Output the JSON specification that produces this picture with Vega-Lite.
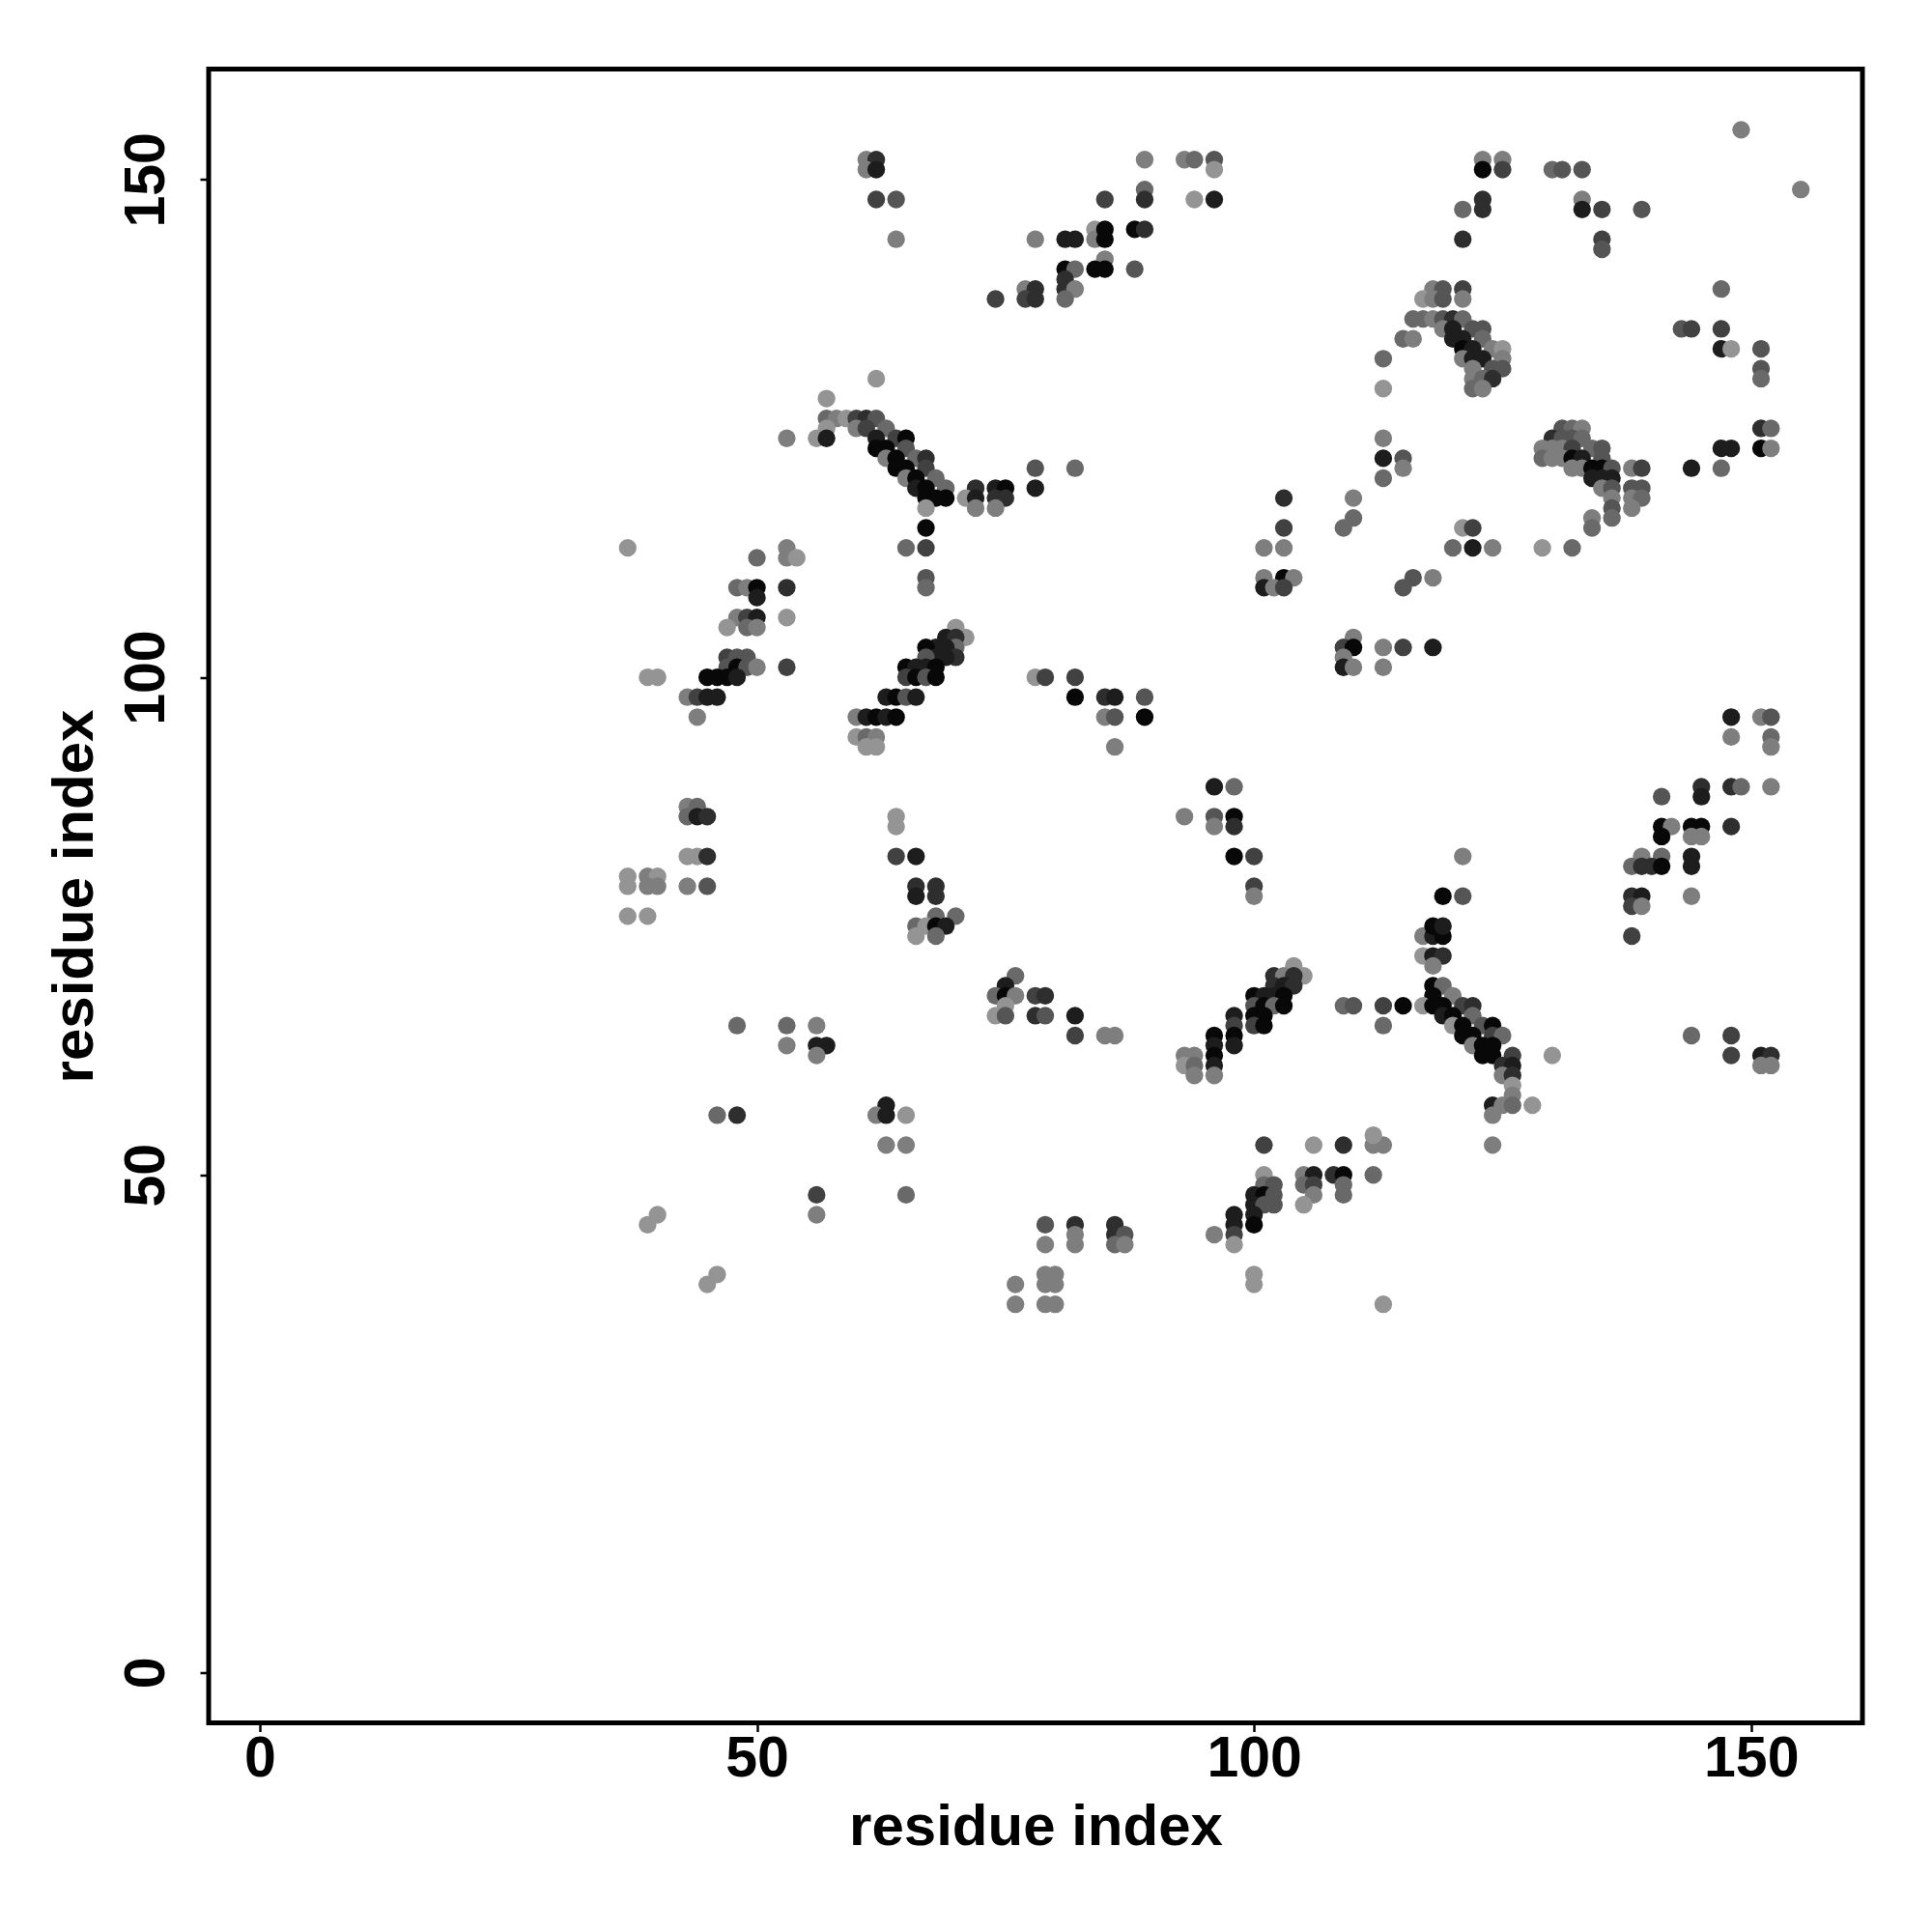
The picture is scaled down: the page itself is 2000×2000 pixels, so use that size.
{"$schema":"https://vega.github.io/schema/vega-lite/v6.json","width":1712,"height":1712,"autosize":{"type":"none"},"padding":{"left":216,"top":71.5,"right":72,"bottom":216},"background":"white","view":{"stroke":"#000","strokeWidth":5},
"data":{"values":[
{"x":62,"y":130,"s":2},{"x":57,"y":128,"s":2},{"x":57,"y":126,"s":4},{"x":58,"y":126,"s":3},{"x":59,"y":126,"s":2},{"x":60,"y":126,"s":6},{"x":61,"y":126,"s":7},{"x":62,"y":126,"s":5},{"x":57,"y":125,"s":2},{"x":60,"y":125,"s":3},{"x":61,"y":125,"s":6},{"x":63,"y":125,"s":4},{"x":53,"y":124,"s":3},{"x":56,"y":124,"s":2},{"x":57,"y":124,"s":8},{"x":62,"y":124,"s":8},{"x":64,"y":124,"s":6},{"x":65,"y":124,"s":9},{"x":62,"y":123,"s":9},{"x":63,"y":123,"s":9},{"x":65,"y":123,"s":5},{"x":63,"y":122,"s":3},{"x":64,"y":122,"s":9},{"x":66,"y":122,"s":4},{"x":67,"y":122,"s":7},{"x":64,"y":121,"s":9},{"x":65,"y":121,"s":9},{"x":67,"y":121,"s":6},{"x":65,"y":120,"s":3},{"x":66,"y":120,"s":9},{"x":68,"y":120,"s":4},{"x":66,"y":119,"s":8},{"x":67,"y":119,"s":9},{"x":69,"y":119,"s":4},{"x":72,"y":119,"s":7},{"x":74,"y":119,"s":8},{"x":75,"y":119,"s":9},{"x":78,"y":119,"s":8},{"x":78,"y":121,"s":5},{"x":82,"y":121,"s":4},{"x":67,"y":118,"s":9},{"x":68,"y":118,"s":9},{"x":69,"y":118,"s":9},{"x":71,"y":118,"s":2},{"x":72,"y":118,"s":8},{"x":74,"y":118,"s":7},{"x":75,"y":118,"s":7},{"x":67,"y":117,"s":2},{"x":72,"y":117,"s":3},{"x":74,"y":117,"s":3},{"x":67,"y":115,"s":9},{"x":37,"y":113,"s":2},{"x":53,"y":113,"s":3},{"x":65,"y":113,"s":4},{"x":67,"y":113,"s":6},{"x":50,"y":112,"s":4},{"x":53,"y":112,"s":3},{"x":54,"y":112,"s":2},{"x":67,"y":110,"s":5},{"x":48,"y":109,"s":4},{"x":49,"y":109,"s":3},{"x":50,"y":109,"s":9},{"x":53,"y":109,"s":7},{"x":67,"y":109,"s":4},{"x":50,"y":108,"s":8},{"x":48,"y":106,"s":3},{"x":49,"y":106,"s":6},{"x":50,"y":106,"s":8},{"x":53,"y":106,"s":2},{"x":47,"y":105,"s":2},{"x":49,"y":105,"s":4},{"x":50,"y":105,"s":3},{"x":47,"y":102,"s":6},{"x":48,"y":102,"s":5},{"x":49,"y":102,"s":5},{"x":70,"y":105,"s":2},{"x":71,"y":104,"s":2},{"x":69,"y":104,"s":8},{"x":70,"y":104,"s":7},{"x":70,"y":103,"s":4},{"x":68,"y":103,"s":8},{"x":67,"y":103,"s":9},{"x":69,"y":103,"s":8},{"x":70,"y":102,"s":7},{"x":69,"y":102,"s":8},{"x":68,"y":102,"s":8},{"x":67,"y":102,"s":5},{"x":65,"y":101,"s":9},{"x":66,"y":101,"s":8},{"x":67,"y":101,"s":8},{"x":68,"y":101,"s":9},{"x":47,"y":101,"s":5},{"x":48,"y":101,"s":9},{"x":49,"y":101,"s":5},{"x":50,"y":101,"s":3},{"x":53,"y":101,"s":6},{"x":39,"y":100,"s":2},{"x":40,"y":100,"s":2},{"x":45,"y":100,"s":9},{"x":46,"y":100,"s":9},{"x":47,"y":100,"s":9},{"x":48,"y":100,"s":8},{"x":65,"y":100,"s":6},{"x":66,"y":100,"s":9},{"x":67,"y":100,"s":5},{"x":68,"y":100,"s":9},{"x":78,"y":100,"s":2},{"x":79,"y":100,"s":6},{"x":82,"y":100,"s":6},{"x":43,"y":98,"s":3},{"x":44,"y":98,"s":6},{"x":45,"y":98,"s":8},{"x":46,"y":98,"s":8},{"x":63,"y":98,"s":8},{"x":64,"y":98,"s":9},{"x":65,"y":98,"s":5},{"x":66,"y":98,"s":8},{"x":82,"y":98,"s":9},{"x":85,"y":98,"s":7},{"x":86,"y":98,"s":8},{"x":89,"y":98,"s":5},{"x":44,"y":96,"s":3},{"x":60,"y":96,"s":3},{"x":61,"y":96,"s":8},{"x":62,"y":96,"s":9},{"x":63,"y":96,"s":8},{"x":64,"y":96,"s":9},{"x":85,"y":96,"s":3},{"x":86,"y":96,"s":5},{"x":89,"y":96,"s":9},{"x":60,"y":94,"s":2},{"x":61,"y":94,"s":4},{"x":62,"y":94,"s":3},{"x":61,"y":93,"s":2},{"x":62,"y":93,"s":2},{"x":86,"y":93,"s":3},
{"x":43,"y":87,"s":3},{"x":44,"y":87,"s":4},{"x":43,"y":86,"s":4},{"x":44,"y":86,"s":8},{"x":45,"y":86,"s":7},{"x":64,"y":86,"s":2},{"x":64,"y":85,"s":2},{"x":43,"y":82,"s":2},{"x":44,"y":82,"s":2},{"x":45,"y":82,"s":7},{"x":64,"y":82,"s":6},{"x":66,"y":82,"s":8},{"x":37,"y":80,"s":2},{"x":39,"y":80,"s":3},{"x":40,"y":80,"s":2},{"x":37,"y":79,"s":2},{"x":39,"y":79,"s":3},{"x":40,"y":79,"s":3},{"x":43,"y":79,"s":3},{"x":45,"y":79,"s":5},{"x":66,"y":79,"s":7},{"x":68,"y":79,"s":7},{"x":66,"y":78,"s":8},{"x":68,"y":78,"s":7},{"x":37,"y":76,"s":2},{"x":39,"y":76,"s":2},{"x":68,"y":76,"s":4},{"x":70,"y":76,"s":4},{"x":66,"y":75,"s":4},{"x":67,"y":75,"s":2},{"x":68,"y":75,"s":9},{"x":69,"y":75,"s":8},{"x":66,"y":74,"s":2},{"x":68,"y":74,"s":4},
{"x":76,"y":70,"s":4},{"x":75,"y":69,"s":8},{"x":74,"y":68,"s":4},{"x":75,"y":68,"s":9},{"x":76,"y":68,"s":3},{"x":78,"y":68,"s":6},{"x":79,"y":68,"s":7},{"x":75,"y":67,"s":2},{"x":74,"y":66,"s":2},{"x":75,"y":66,"s":5},{"x":78,"y":66,"s":7},{"x":79,"y":66,"s":5},{"x":82,"y":66,"s":8},{"x":82,"y":64,"s":6},{"x":85,"y":64,"s":3},{"x":86,"y":64,"s":3},
{"x":48,"y":65,"s":4},{"x":53,"y":65,"s":4},{"x":56,"y":65,"s":3},{"x":53,"y":63,"s":3},{"x":56,"y":63,"s":8},{"x":57,"y":63,"s":8},{"x":56,"y":62,"s":3},{"x":63,"y":57,"s":8},{"x":46,"y":56,"s":4},{"x":48,"y":56,"s":7},{"x":62,"y":56,"s":3},{"x":63,"y":56,"s":8},{"x":65,"y":56,"s":2},{"x":63,"y":53,"s":3},{"x":65,"y":53,"s":3},{"x":56,"y":48,"s":6},{"x":65,"y":48,"s":4},{"x":56,"y":46,"s":3},{"x":39,"y":45,"s":2},{"x":40,"y":46,"s":2},{"x":45,"y":39,"s":2},{"x":46,"y":40,"s":2},
{"x":79,"y":45,"s":5},{"x":82,"y":45,"s":7},{"x":86,"y":45,"s":7},{"x":79,"y":43,"s":3},{"x":82,"y":44,"s":3},{"x":82,"y":43,"s":3},{"x":86,"y":44,"s":7},{"x":87,"y":44,"s":5},{"x":86,"y":43,"s":4},{"x":87,"y":43,"s":3},{"x":76,"y":39,"s":3},{"x":76,"y":37,"s":3},{"x":79,"y":40,"s":3},{"x":80,"y":40,"s":3},{"x":79,"y":39,"s":3},{"x":80,"y":39,"s":3},{"x":79,"y":37,"s":3},{"x":80,"y":37,"s":3},{"x":113,"y":37,"s":2},
{"x":117,"y":74,"s":3},{"x":118,"y":74,"s":8},{"x":119,"y":74,"s":9},{"x":118,"y":75,"s":9},{"x":119,"y":75,"s":8},{"x":117,"y":72,"s":2},{"x":118,"y":72,"s":8},{"x":119,"y":72,"s":7},{"x":118,"y":71,"s":3},{"x":119,"y":78,"s":9},{"x":121,"y":78,"s":5},{"x":121,"y":82,"s":3},{"x":118,"y":69,"s":9},{"x":119,"y":69,"s":4},{"x":118,"y":68,"s":9},{"x":120,"y":68,"s":3},{"x":109,"y":67,"s":4},{"x":110,"y":67,"s":5},{"x":113,"y":67,"s":6},{"x":115,"y":67,"s":9},{"x":117,"y":67,"s":2},{"x":118,"y":67,"s":9},{"x":119,"y":67,"s":9},{"x":121,"y":67,"s":6},{"x":122,"y":67,"s":7},{"x":119,"y":66,"s":8},{"x":120,"y":66,"s":9},{"x":122,"y":66,"s":4},{"x":113,"y":65,"s":4},{"x":120,"y":65,"s":2},{"x":121,"y":65,"s":9},{"x":123,"y":65,"s":5},{"x":124,"y":65,"s":9},{"x":121,"y":64,"s":9},{"x":122,"y":64,"s":9},{"x":124,"y":64,"s":6},{"x":125,"y":64,"s":4},{"x":122,"y":63,"s":3},{"x":123,"y":63,"s":9},{"x":124,"y":63,"s":9},{"x":123,"y":62,"s":9},{"x":124,"y":62,"s":9},{"x":126,"y":62,"s":6},{"x":130,"y":62,"s":2},{"x":125,"y":61,"s":7},{"x":126,"y":61,"s":8},{"x":125,"y":60,"s":3},{"x":126,"y":60,"s":7},{"x":126,"y":59,"s":2},{"x":126,"y":58,"s":3},{"x":124,"y":57,"s":8},{"x":125,"y":57,"s":3},{"x":126,"y":57,"s":4},{"x":128,"y":57,"s":2},{"x":124,"y":56,"s":3},{"x":124,"y":53,"s":3},
{"x":104,"y":71,"s":2},{"x":105,"y":70,"s":2},{"x":102,"y":70,"s":7},{"x":103,"y":70,"s":3},{"x":104,"y":70,"s":7},{"x":102,"y":69,"s":7},{"x":103,"y":69,"s":8},{"x":104,"y":69,"s":7},{"x":100,"y":68,"s":9},{"x":101,"y":68,"s":8},{"x":102,"y":68,"s":8},{"x":103,"y":68,"s":9},{"x":100,"y":67,"s":5},{"x":101,"y":67,"s":9},{"x":102,"y":67,"s":4},{"x":103,"y":67,"s":9},{"x":98,"y":66,"s":8},{"x":100,"y":66,"s":9},{"x":101,"y":66,"s":9},{"x":98,"y":65,"s":6},{"x":100,"y":65,"s":6},{"x":101,"y":65,"s":9},{"x":96,"y":64,"s":9},{"x":98,"y":64,"s":9},{"x":96,"y":63,"s":8},{"x":98,"y":63,"s":8},{"x":93,"y":62,"s":3},{"x":94,"y":62,"s":3},{"x":96,"y":62,"s":9},{"x":93,"y":61,"s":2},{"x":94,"y":61,"s":4},{"x":96,"y":61,"s":8},{"x":94,"y":60,"s":3},{"x":96,"y":60,"s":3},
{"x":101,"y":53,"s":6},{"x":106,"y":53,"s":2},{"x":109,"y":53,"s":7},{"x":112,"y":53,"s":3},{"x":113,"y":53,"s":3},{"x":112,"y":54,"s":2},{"x":101,"y":50,"s":2},{"x":105,"y":50,"s":3},{"x":106,"y":50,"s":8},{"x":108,"y":50,"s":7},{"x":109,"y":50,"s":9},{"x":112,"y":50,"s":4},{"x":101,"y":49,"s":4},{"x":102,"y":49,"s":5},{"x":105,"y":49,"s":4},{"x":106,"y":49,"s":6},{"x":109,"y":49,"s":4},{"x":100,"y":48,"s":8},{"x":101,"y":48,"s":9},{"x":102,"y":48,"s":5},{"x":106,"y":48,"s":3},{"x":109,"y":48,"s":4},{"x":100,"y":47,"s":8},{"x":101,"y":47,"s":5},{"x":102,"y":47,"s":5},{"x":105,"y":47,"s":2},{"x":98,"y":46,"s":8},{"x":100,"y":46,"s":8},{"x":98,"y":45,"s":8},{"x":100,"y":45,"s":9},{"x":96,"y":44,"s":3},{"x":98,"y":44,"s":6},{"x":98,"y":43,"s":2},{"x":100,"y":40,"s":2},{"x":100,"y":39,"s":2},
{"x":118,"y":139,"s":3},{"x":119,"y":139,"s":5},{"x":121,"y":139,"s":6},{"x":147,"y":139,"s":4},{"x":117,"y":138,"s":2},{"x":118,"y":138,"s":3},{"x":119,"y":138,"s":5},{"x":121,"y":138,"s":3},{"x":116,"y":136,"s":4},{"x":117,"y":136,"s":4},{"x":118,"y":136,"s":3},{"x":119,"y":136,"s":5},{"x":120,"y":136,"s":7},{"x":121,"y":136,"s":4},{"x":119,"y":135,"s":3},{"x":120,"y":135,"s":8},{"x":122,"y":135,"s":5},{"x":123,"y":135,"s":5},{"x":143,"y":135,"s":5},{"x":144,"y":135,"s":6},{"x":147,"y":135,"s":6},{"x":115,"y":134,"s":4},{"x":116,"y":134,"s":3},{"x":120,"y":134,"s":8},{"x":121,"y":134,"s":8},{"x":123,"y":134,"s":4},{"x":121,"y":133,"s":9},{"x":122,"y":133,"s":8},{"x":124,"y":133,"s":3},{"x":125,"y":133,"s":2},{"x":147,"y":133,"s":8},{"x":148,"y":133,"s":2},{"x":151,"y":133,"s":5},{"x":113,"y":132,"s":4},{"x":121,"y":132,"s":3},{"x":122,"y":132,"s":8},{"x":123,"y":132,"s":8},{"x":125,"y":132,"s":3},{"x":122,"y":131,"s":3},{"x":124,"y":131,"s":5},{"x":125,"y":131,"s":5},{"x":151,"y":131,"s":5},{"x":122,"y":130,"s":3},{"x":123,"y":130,"s":4},{"x":124,"y":130,"s":7},{"x":151,"y":130,"s":4},{"x":122,"y":129,"s":4},{"x":123,"y":129,"s":3},{"x":113,"y":129,"s":2},
{"x":131,"y":125,"s":5},{"x":132,"y":125,"s":4},{"x":133,"y":125,"s":3},{"x":151,"y":125,"s":7},{"x":152,"y":125,"s":4},{"x":113,"y":124,"s":3},{"x":130,"y":124,"s":7},{"x":131,"y":124,"s":5},{"x":132,"y":124,"s":5},{"x":133,"y":124,"s":4},{"x":129,"y":123,"s":3},{"x":130,"y":123,"s":3},{"x":131,"y":123,"s":3},{"x":132,"y":123,"s":6},{"x":134,"y":123,"s":4},{"x":135,"y":123,"s":5},{"x":147,"y":123,"s":8},{"x":148,"y":123,"s":8},{"x":151,"y":123,"s":9},{"x":152,"y":123,"s":3},{"x":113,"y":122,"s":8},{"x":115,"y":122,"s":5},{"x":129,"y":122,"s":4},{"x":130,"y":122,"s":3},{"x":131,"y":122,"s":3},{"x":132,"y":122,"s":9},{"x":133,"y":122,"s":8},{"x":135,"y":122,"s":5},{"x":115,"y":121,"s":3},{"x":132,"y":121,"s":3},{"x":133,"y":121,"s":3},{"x":134,"y":121,"s":9},{"x":135,"y":121,"s":9},{"x":136,"y":121,"s":5},{"x":138,"y":121,"s":3},{"x":139,"y":121,"s":6},{"x":144,"y":121,"s":8},{"x":147,"y":121,"s":4},{"x":113,"y":120,"s":4},{"x":134,"y":120,"s":8},{"x":135,"y":120,"s":8},{"x":136,"y":120,"s":8},{"x":135,"y":119,"s":3},{"x":136,"y":119,"s":5},{"x":138,"y":119,"s":5},{"x":139,"y":119,"s":5},{"x":136,"y":118,"s":3},{"x":138,"y":118,"s":3},{"x":139,"y":118,"s":4},{"x":136,"y":117,"s":5},{"x":138,"y":117,"s":3},{"x":136,"y":116,"s":4},{"x":134,"y":116,"s":3},{"x":134,"y":115,"s":4},{"x":121,"y":115,"s":2},{"x":122,"y":115,"s":6},{"x":120,"y":113,"s":4},{"x":122,"y":113,"s":8},{"x":124,"y":113,"s":3},{"x":129,"y":113,"s":2},{"x":132,"y":113,"s":4},
{"x":103,"y":118,"s":7},{"x":110,"y":118,"s":3},{"x":110,"y":116,"s":4},{"x":109,"y":115,"s":4},{"x":103,"y":115,"s":6},{"x":101,"y":113,"s":3},{"x":103,"y":113,"s":3},{"x":101,"y":110,"s":3},{"x":103,"y":110,"s":9},{"x":104,"y":110,"s":3},{"x":101,"y":109,"s":8},{"x":102,"y":109,"s":3},{"x":103,"y":109,"s":6},{"x":116,"y":110,"s":5},{"x":115,"y":109,"s":5},{"x":118,"y":110,"s":3},{"x":110,"y":104,"s":3},{"x":109,"y":103,"s":6},{"x":110,"y":103,"s":9},{"x":113,"y":103,"s":3},{"x":115,"y":103,"s":6},{"x":118,"y":103,"s":8},{"x":109,"y":102,"s":3},{"x":109,"y":101,"s":8},{"x":110,"y":101,"s":3},{"x":113,"y":101,"s":3},
{"x":61,"y":152,"s":3},{"x":62,"y":152,"s":7},{"x":61,"y":151,"s":3},{"x":62,"y":151,"s":8},{"x":62,"y":148,"s":6},{"x":64,"y":148,"s":5},{"x":64,"y":144,"s":3},{"x":78,"y":144,"s":3},{"x":81,"y":144,"s":8},{"x":82,"y":144,"s":8},{"x":84,"y":145,"s":2},{"x":84,"y":144,"s":3},{"x":85,"y":145,"s":9},{"x":85,"y":144,"s":9},{"x":88,"y":145,"s":9},{"x":89,"y":145,"s":7},{"x":89,"y":149,"s":4},{"x":89,"y":148,"s":7},{"x":89,"y":152,"s":3},{"x":93,"y":152,"s":3},{"x":94,"y":152,"s":4},{"x":96,"y":152,"s":5},{"x":96,"y":151,"s":2},{"x":94,"y":148,"s":2},{"x":96,"y":148,"s":8},{"x":85,"y":148,"s":6},{"x":85,"y":142,"s":3},{"x":84,"y":141,"s":9},{"x":85,"y":141,"s":9},{"x":88,"y":141,"s":5},{"x":81,"y":141,"s":9},{"x":82,"y":141,"s":4},{"x":81,"y":140,"s":7},{"x":81,"y":139,"s":7},{"x":82,"y":139,"s":3},{"x":81,"y":138,"s":4},{"x":77,"y":139,"s":3},{"x":78,"y":139,"s":7},{"x":77,"y":138,"s":6},{"x":78,"y":138,"s":7},{"x":74,"y":138,"s":6},
{"x":149,"y":155,"s":3},{"x":155,"y":149,"s":3},{"x":123,"y":152,"s":3},{"x":125,"y":152,"s":3},{"x":123,"y":151,"s":9},{"x":125,"y":151,"s":6},{"x":130,"y":151,"s":4},{"x":131,"y":151,"s":5},{"x":133,"y":151,"s":5},{"x":133,"y":148,"s":3},{"x":133,"y":147,"s":8},{"x":135,"y":147,"s":6},{"x":139,"y":147,"s":5},{"x":123,"y":148,"s":7},{"x":123,"y":147,"s":7},{"x":121,"y":147,"s":4},{"x":121,"y":144,"s":7},{"x":135,"y":144,"s":6},{"x":135,"y":143,"s":5},
{"x":148,"y":96,"s":8},{"x":151,"y":96,"s":3},{"x":152,"y":96,"s":5},{"x":148,"y":94,"s":3},{"x":152,"y":94,"s":4},{"x":152,"y":93,"s":3},{"x":145,"y":89,"s":7},{"x":145,"y":88,"s":8},{"x":148,"y":89,"s":7},{"x":149,"y":89,"s":4},{"x":152,"y":89,"s":3},{"x":141,"y":88,"s":5},{"x":141,"y":85,"s":9},{"x":142,"y":85,"s":3},{"x":141,"y":84,"s":9},{"x":144,"y":85,"s":9},{"x":145,"y":85,"s":9},{"x":144,"y":84,"s":3},{"x":145,"y":84,"s":3},{"x":148,"y":85,"s":7},{"x":139,"y":82,"s":3},{"x":141,"y":82,"s":4},{"x":144,"y":82,"s":8},{"x":138,"y":81,"s":4},{"x":139,"y":81,"s":7},{"x":140,"y":81,"s":7},{"x":141,"y":81,"s":9},{"x":144,"y":81,"s":8},{"x":138,"y":78,"s":7},{"x":139,"y":78,"s":8},{"x":144,"y":78,"s":3},{"x":138,"y":77,"s":6},{"x":139,"y":77,"s":3},{"x":138,"y":74,"s":6},{"x":144,"y":64,"s":4},{"x":148,"y":64,"s":6},{"x":148,"y":62,"s":6},{"x":151,"y":62,"s":8},{"x":152,"y":62,"s":7},{"x":151,"y":61,"s":3},{"x":152,"y":61,"s":3},
{"x":96,"y":89,"s":8},{"x":98,"y":89,"s":4},{"x":93,"y":86,"s":3},{"x":96,"y":86,"s":5},{"x":98,"y":86,"s":9},{"x":96,"y":85,"s":3},{"x":98,"y":85,"s":7},{"x":98,"y":82,"s":9},{"x":100,"y":82,"s":6},{"x":100,"y":79,"s":6},{"x":100,"y":78,"s":3}
]},
"mark":{"type":"circle","size":335,"opacity":1},
"encoding":{
"x":{"field":"x","type":"quantitative","scale":{"domain":[-5.15,161.2],"nice":false,"zero":false},"axis":{"title":"residue index","values":[0,50,100,150],"grid":false,"domain":false,"tickColor":"#000","tickSize":9,"tickWidth":2.5,"labelFont":"Liberation Sans","labelFontWeight":"bold","labelFontSize":59,"labelColor":"#000","labelPadding":-1,"labelBaseline":"top","titleFont":"Liberation Sans","titleFontWeight":"bold","titleFontSize":60,"titleColor":"#000","titlePadding":11.5}},
"y":{"field":"y","type":"quantitative","scale":{"domain":[-5.05,161.1],"nice":false,"zero":false},"axis":{"title":"residue index","values":[0,50,100,150],"grid":false,"domain":false,"tickColor":"#000","tickSize":9,"tickWidth":2.5,"labelFont":"Liberation Sans","labelFontWeight":"bold","labelFontSize":59,"labelColor":"#000","labelAngle":-90,"labelAlign":"center","labelBaseline":"bottom","labelPadding":25.5,"titleFont":"Liberation Sans","titleFontWeight":"bold","titleFontSize":60,"titleColor":"#000","titlePadding":14}},
"color":{"field":"s","type":"quantitative","legend":null,"scale":{"domain":[2,9],"range":["#949494","#080808"]}},
"order":[{"field":"x"},{"field":"y"}]
}}
